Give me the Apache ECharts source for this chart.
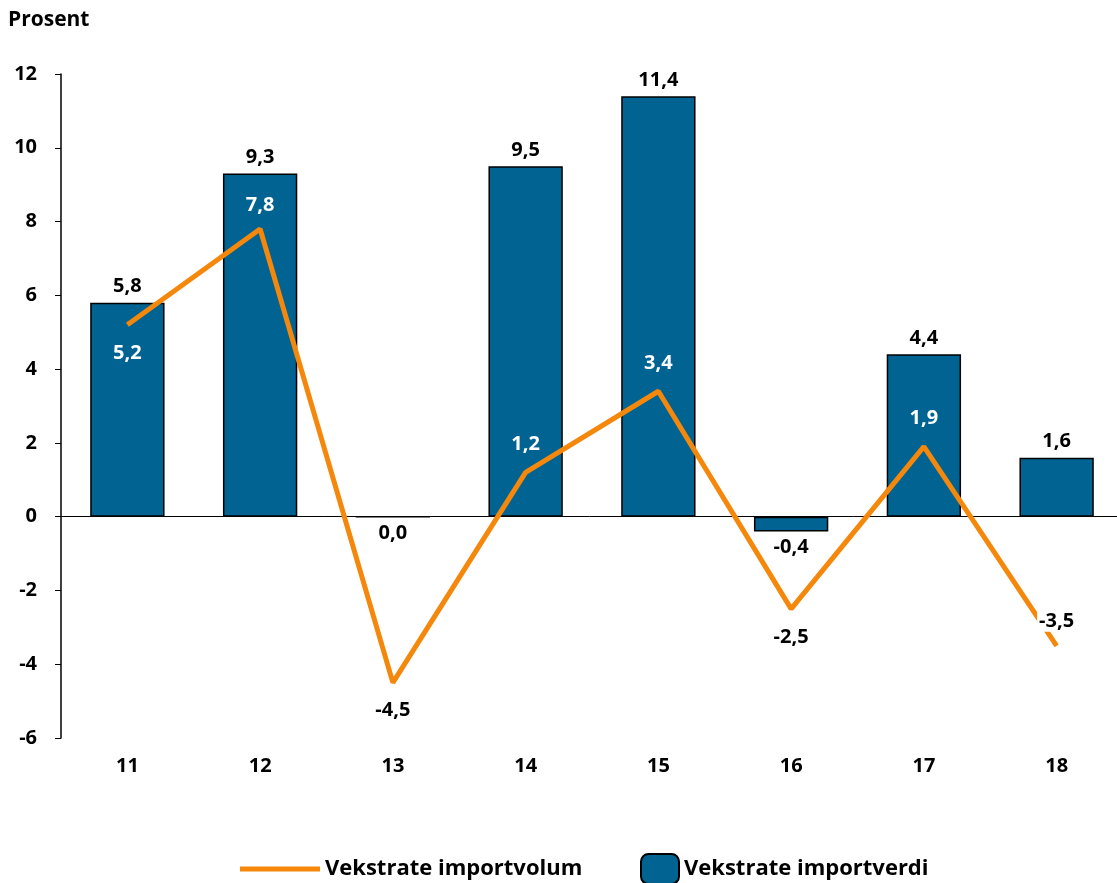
<!DOCTYPE html>
<html>
<head>
<meta charset="utf-8">
<script src="https://cdn.jsdelivr.net/npm/echarts@6/dist/echarts.min.js"></script>
<style>
  html, body { margin: 0; padding: 0; background: #fff; }
  #chart { width: 1117px; height: 883px; }
</style>
</head>
<body>
<div id="chart"></div>
<script>
var years = ["11", "12", "13", "14", "15", "16", "17", "18"];
var importValue = [5.8, 9.3, 0.0, 9.5, 11.4, -0.4, 4.4, 1.6];
var importVolume = [5.2, 7.8, -4.5, 1.2, 3.4, -2.5, 1.9, -3.5];
// where the line labels sit and their colour
var volumeLabelPos = ["bottom", "top", "bottom", "top", "top", "bottom", "top", "top"];
var volumeLabelColor = ["#fff", "#fff", "#000", "#fff", "#fff", "#000", "#fff", "#000"];

var font = "'Open Sans', sans-serif";
var fmt = function(v) { return v.toFixed(1).replace(".", ","); };

var barData = importValue.map(function(v) {
  return {
    value: v,
    label: { position: v > 0 ? "top" : "bottom" }
  };
});
var lineData = importVolume.map(function(v, i) {
  var item = {
    value: v,
    label: { position: volumeLabelPos[i], color: volumeLabelColor[i] }
  };
  if (i === 1) item.label.distance = 14;
  if (i === importVolume.length - 1) {
    item.label.backgroundColor = "#fff";
    item.label.padding = [0, 2, 0, 2];
    item.label.distance = 14;
  }
  return item;
});

var chart = echarts.init(document.getElementById("chart"));
chart.setOption({
  animation: false,
  textStyle: { fontFamily: font },
  title: {
    text: "Prosent",
    left: 8,
    top: 10,
    padding: 0,
    textStyle: { fontFamily: font, fontWeight: "bold", fontSize: 21, color: "#000" }
  },
  legend: [
    {
      data: [{ name: "Vekstrate importvolum", icon: "rect" }],
      left: 240,
      top: 858,
      padding: 0,
      itemWidth: 80,
      itemHeight: 5,
      itemGap: 10,
      textStyle: { fontFamily: font, fontWeight: "bold", fontSize: 22, color: "#000" }
    },
    {
      data: ["Vekstrate importverdi"],
      left: 640,
      top: 853,
      padding: 0,
      itemWidth: 38,
      itemHeight: 30,
      itemGap: 12,
      textStyle: { fontFamily: font, fontWeight: "bold", fontSize: 22, color: "#000" }
    }
  ],
  grid: { left: 61, top: 74, width: 1062, bottom: 145, outerBoundsMode: "none" },
  xAxis: {
    type: "category",
    data: years,
    axisLine: { onZero: true, lineStyle: { color: "#000", width: 1 } },
    axisTick: { show: false },
    axisLabel: {
      fontFamily: font, fontWeight: "bold", fontSize: 20, color: "#000",
      margin: 18
    }
  },
  yAxis: {
    type: "value",
    min: -6,
    max: 12,
    interval: 2,
    splitLine: { show: false },
    axisLine: { show: true, lineStyle: { color: "#000", width: 1.5 } },
    axisTick: { show: true, length: 6, lineStyle: { color: "#000" } },
    axisLabel: {
      fontFamily: font, fontWeight: "bold", fontSize: 20, color: "#000",
      margin: 24
    }
  },
  series: [
    {
      name: "Vekstrate importverdi",
      type: "bar",
      data: barData,
      barWidth: "56%",
      itemStyle: { color: "#006391", borderColor: "#000", borderWidth: 1.5 },
      label: {
        show: true,
        distance: 6,
        fontFamily: font, fontWeight: "bold", fontSize: 20, color: "#000",
        formatter: function(p) { return fmt(p.value); }
      },
      z: 2
    },
    {
      name: "Vekstrate importvolum",
      type: "line",
      data: lineData,
      symbol: "circle",
      symbolSize: 0,
      lineStyle: { color: "#f5870a", width: 5 },
      itemStyle: { color: "#f5870a" },
      label: {
        show: true,
        distance: 18,
        fontFamily: font, fontWeight: "bold", fontSize: 20,
        formatter: function(p) { return fmt(p.value); }
      },
      z: 3
    }
  ]
});
</script>
</body>
</html>
